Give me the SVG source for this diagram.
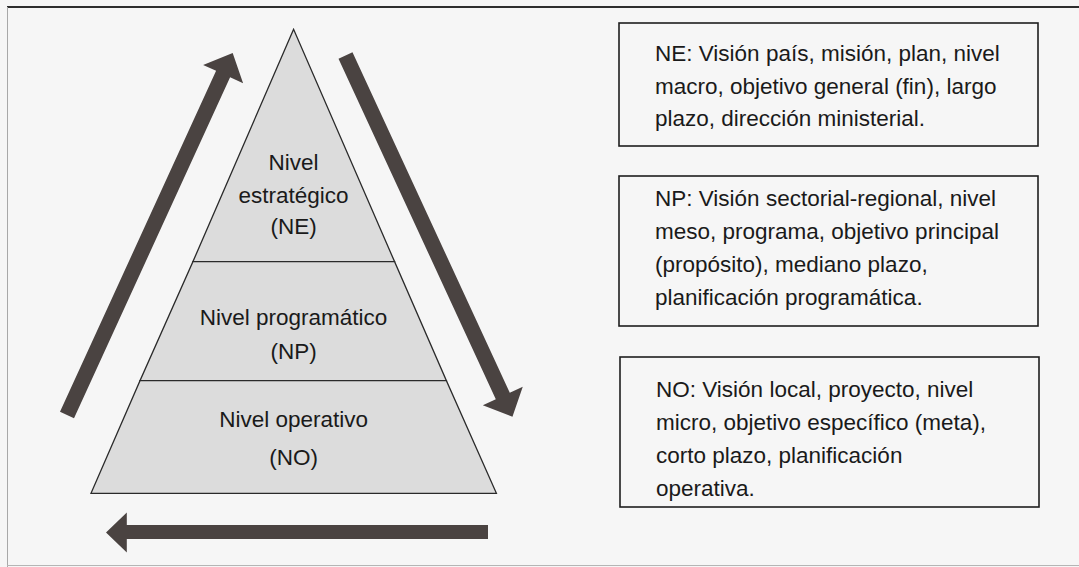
<svg xmlns="http://www.w3.org/2000/svg" width="1079" height="567" viewBox="0 0 1079 567">
<style>
.bg{fill:#f6f6f6}
.lvl{fill:#dcdcdc;stroke:#2a2a2a;stroke-width:1.3}
.box{fill:none;stroke:#1e1e1e;stroke-width:1.6}
.t{font-family:"Liberation Sans",Arial,sans-serif;font-size:22.5px;fill:#1a1a1a}
.c{text-anchor:middle}
.arr{fill:#4a4341}
</style>
<rect class="bg" x="0" y="0" width="1079" height="567"/>
<line x1="7" y1="7" x2="1079" y2="7" stroke="#2e2e2e" stroke-width="2"/>
<line x1="7.5" y1="7" x2="7.5" y2="567" stroke="#a8a8a8" stroke-width="1"/>
<line x1="7" y1="565.5" x2="1079" y2="565.5" stroke="#b5b5b5" stroke-width="1"/>

<g id="nivel-estrategico">
<polygon class="lvl" points="293.6,29.3 192.9,261.7 394.6,261.7"/>
<text class="t c" x="293.6" y="170">Nivel</text>
<text class="t c" x="293.6" y="203">estratégico</text>
<text class="t c" x="293.6" y="234">(NE)</text>
</g>
<g id="nivel-programatico">
<polygon class="lvl" points="192.9,261.7 394.6,261.7 446.4,380.7 140,380.7"/>
<text class="t c" x="293.6" y="325">Nivel programático</text>
<text class="t c" x="293.6" y="359">(NP)</text>
</g>
<g id="nivel-operativo">
<polygon class="lvl" points="140,380.7 446.4,380.7 496.4,493.3 91,493.3"/>
<text class="t c" x="293.6" y="427">Nivel operativo</text>
<text class="t c" x="293.6" y="465">(NO)</text>
</g>

<g id="box-ne">
<rect class="box" x="619" y="23" width="419" height="123"/>
<text class="t" x="655" y="61">NE: Visión país, misión, plan, nivel</text>
<text class="t" x="655" y="93.5">macro, objetivo general (fin), largo</text>
<text class="t" x="655" y="126">plazo, dirección ministerial.</text>
</g>
<g id="box-np">
<rect class="box" x="619" y="176" width="419" height="150"/>
<text class="t" x="655" y="206">NP: Visión sectorial-regional, nivel</text>
<text class="t" x="655" y="239">meso, programa, objetivo principal</text>
<text class="t" x="655" y="272">(propósito), mediano plazo,</text>
<text class="t" x="655" y="305">planificación programática.</text>
</g>
<g id="box-no">
<rect class="box" x="620" y="357" width="419" height="150"/>
<text class="t" x="656" y="397">NO: Visión local, proyecto, nivel</text>
<text class="t" x="656" y="430">micro, objetivo específico (meta),</text>
<text class="t" x="656" y="463">corto plazo, planificación</text>
<text class="t" x="656" y="496">operativa.</text>
</g>

<g id="connectors">
<polygon class="arr" transform="translate(67,415) rotate(-65.4)" points="0,-7.7 375,-7.7 375,-22 398,0 375,22 375,7.7 0,7.7"/>
<polygon class="arr" transform="translate(345.5,55.5) rotate(65.2)" points="0,-7.7 375,-7.7 375,-22 398,0 375,22 375,7.7 0,7.7"/>
<polygon class="arr" points="488,525 126.8,525 126.8,512.5 106,532.5 126.8,552.5 126.8,539 488,539"/>
</g>
</svg>
